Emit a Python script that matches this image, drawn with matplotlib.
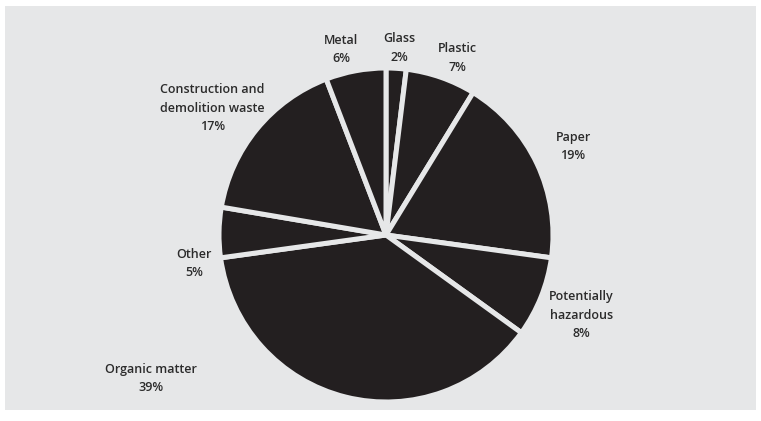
import matplotlib
matplotlib.use('Agg')
import matplotlib.pyplot as plt
from matplotlib.patches import Rectangle

# waste composition, clockwise from the top
categories = ['Glass', 'Plastic', 'Paper', 'Potentially\nhazardous', 'Organic matter',
              'Other', 'Construction and\ndemolition waste', 'Metal']
shares = [2, 7, 19, 8, 39, 5, 17, 6]

# where each label sits (pie radius = 1)
label_xy = [(0.08, 1.12), (0.43, 1.06), (1.12, 0.53), (1.17, -0.48),
            (-1.41, -0.86), (-1.15, -0.17), (-1.04, 0.76), (-0.27, 1.11)]

bg = '#e6e7e8'
ink = '#231f20'

fig = plt.figure(figsize=(7.61, 4.21), dpi=100)
fig.patch.set_facecolor('white')
fig.patches.append(Rectangle((5 / 761, 11 / 421), 751 / 761, 404 / 421,
                             transform=fig.transFigure, facecolor=bg, edgecolor='none', zorder=-5))

ax = fig.add_axes([0, 0, 1, 1])
ax.set_facecolor('none')
R = 167.0
cx, cy = 386.0, 421 - 235.0
ax.pie(shares, startangle=90, counterclock=False, radius=1,
       colors=[ink] * len(shares),
       wedgeprops=dict(edgecolor=bg, linewidth=3.6))
ax.set_xlim(-cx / R, (761 - cx) / R)
ax.set_ylim(-cy / R, (421 - cy) / R)
ax.set_aspect('equal', adjustable='datalim')
ax.axis('off')

for name, val, (x, y) in zip(categories, shares, label_xy):
    ax.text(x, y, f'{name}\n{val}%', ha='center', va='center', fontsize=9,
            family='Open Sans', fontweight='semibold', color='#2b2b2b', linespacing=1.55)

fig.savefig('out.png', dpi=100, facecolor=fig.get_facecolor())
